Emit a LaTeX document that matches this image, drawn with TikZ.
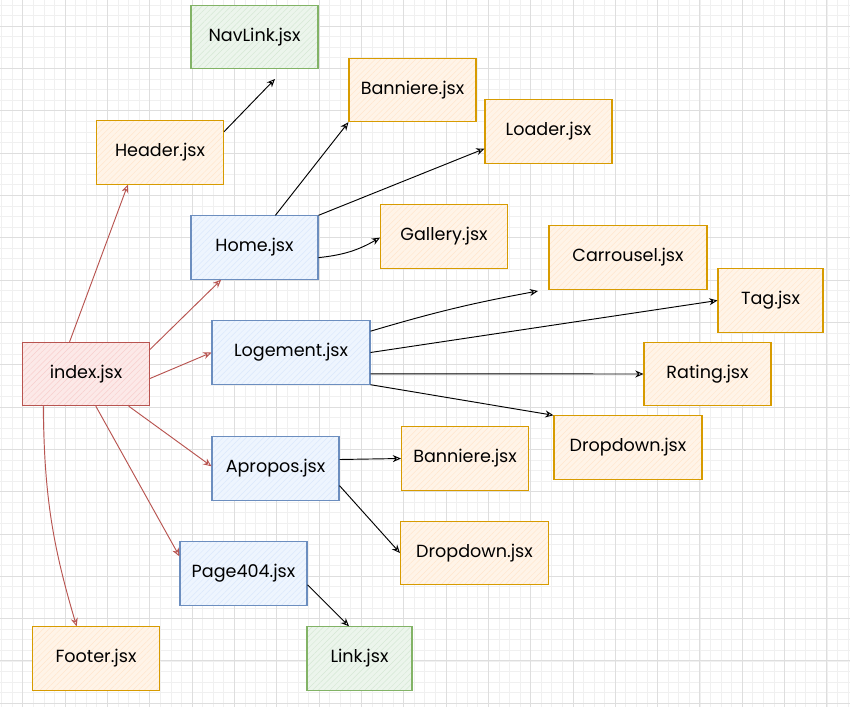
\documentclass[tikz,border=0pt]{standalone}
\usepackage{fontspec}
\setmainfont{Poppins}
\usetikzlibrary{arrows.meta, patterns.meta}

\definecolor{orgline}{HTML}{D79B00}
\definecolor{orgfill}{HTML}{FFE6CC}
\definecolor{bluline}{HTML}{6C8EBF}
\definecolor{blufill}{HTML}{DAE8FC}
\definecolor{grnline}{HTML}{82B366}
\definecolor{grnfill}{HTML}{D5E8D4}
\definecolor{redline}{HTML}{B85450}
\definecolor{redfill}{HTML}{F8CECC}

\begin{document}
\begin{tikzpicture}[
    x=0.03cm, y=-0.03cm,
    box/.style={draw, line width=0.9pt, minimum width=3.81cm, minimum height=1.9cm,
                text centered, font=\fontsize{15}{17}\selectfont, inner sep=0pt},
    hatched/.style={preaction={fill=#1!45}, preaction={pattern={Lines[angle=45,distance=3.5pt,line width=0.4pt]},
                pattern color=#1}},
    filebox/.style={box, draw=orgline, hatched=orgfill},
    pagebox/.style={box, draw=bluline, hatched=blufill},
    libbox/.style={box, draw=grnline, hatched=grnfill},
    rootbox/.style={box, draw=redline, hatched=redfill},
    arr/.style={-{Stealth[length=7pt, width=6pt, open]}, line width=0.8pt},
    redarr/.style={arr, draw=redline},
    gridminor/.style={draw=black!6, line width=0.4pt},
    gridmajor/.style={draw=black!13, line width=0.5pt}
]
\useasboundingbox (0,0) rectangle (850,707);
\fill[white] (0,0) rectangle (850,707);
\foreach \i in {0,...,80} \draw[gridminor] ({1.5+10.58*\i},0) -- ({1.5+10.58*\i},707);
\foreach \i in {0,...,66} \draw[gridminor] (0,{4.8+10.58*\i}) -- (850,{4.8+10.58*\i});
\foreach \i in {0,...,19} \draw[gridmajor] ({22.66+42.32*\i},0) -- ({22.66+42.32*\i},707);
\foreach \i in {0,...,16} \draw[gridmajor] (0,{25.96+42.32*\i}) -- (850,{25.96+42.32*\i});

\node[rootbox] (idx) at (86,374) {index.jsx};
\node[filebox] (hdr) at (160,152.5) {Header.jsx};
\node[libbox] (navl) at (254.5,37) {NavLink.jsx};
\node[pagebox] (home) at (254.5,247.5) {Home.jsx};
\node[pagebox, minimum width=4.74cm] (logt) at (291,352.5) {Logement.jsx};
\node[pagebox] (apro) at (275.5,468.5) {Apropos.jsx};
\node[pagebox] (p404) at (243.5,573.5) {Page404.jsx};
\node[filebox] (foot) at (96,658.5) {Footer.jsx};
\node[filebox] (ban1) at (412.5,90) {Banniere.jsx};
\node[filebox] (load) at (548.5,131.5) {Loader.jsx};
\node[filebox] (gall) at (444,236.5) {Gallery.jsx};
\node[filebox, minimum width=4.74cm] (carr) at (628,257.5) {Carrousel.jsx};
\node[filebox, minimum width=3.15cm] (tag) at (770.5,300.5) {Tag.jsx};
\node[filebox] (rat) at (707.5,374) {Rating.jsx};
\node[filebox, minimum width=4.44cm] (drop1) at (628,447.5) {Dropdown.jsx};
\node[filebox] (ban2) at (465,458.5) {Banniere.jsx};
\node[filebox, minimum width=4.44cm] (drop2) at (474.5,553) {Dropdown.jsx};
\node[libbox, minimum width=3.15cm] (link) at (359.5,658.5) {Link.jsx};

\coordinate (navend) at (275,79);
\coordinate (carrend) at (538,291);

\draw[redarr] (idx.117) -- (hdr.225);
\draw[redarr] (idx.21) -- (home.224);
\draw[redarr] (idx.356) -- (logt.180);
\draw[redarr] (idx.323) -- (apro.178);
\draw[redarr] (idx.287) -- (p404.165);
\draw[redarr] (idx.217) to[bend right=8] (foot.121);

\draw[arr] (hdr.18) -- (navend);
\draw[arr] (home.57) -- (ban1.south west);
\draw[arr] (home.north east) -- (load.195);
\draw[arr] (home.351) to[bend right=12] (gall.181);
\draw[arr] (logt.15) to[bend left=3] (carrend);
\draw[arr] (logt.east) -- (tag.west);
\draw[arr] (logt.345) -- (rat.west);
\draw[arr] (logt.south east) -- (drop1.north west);
\draw[arr] (apro.8) -- (ban2.west);
\draw[arr] (apro.345) -- (drop2.west);
\draw[arr] (p404.350) -- (link.108);
\end{tikzpicture}
\end{document}
